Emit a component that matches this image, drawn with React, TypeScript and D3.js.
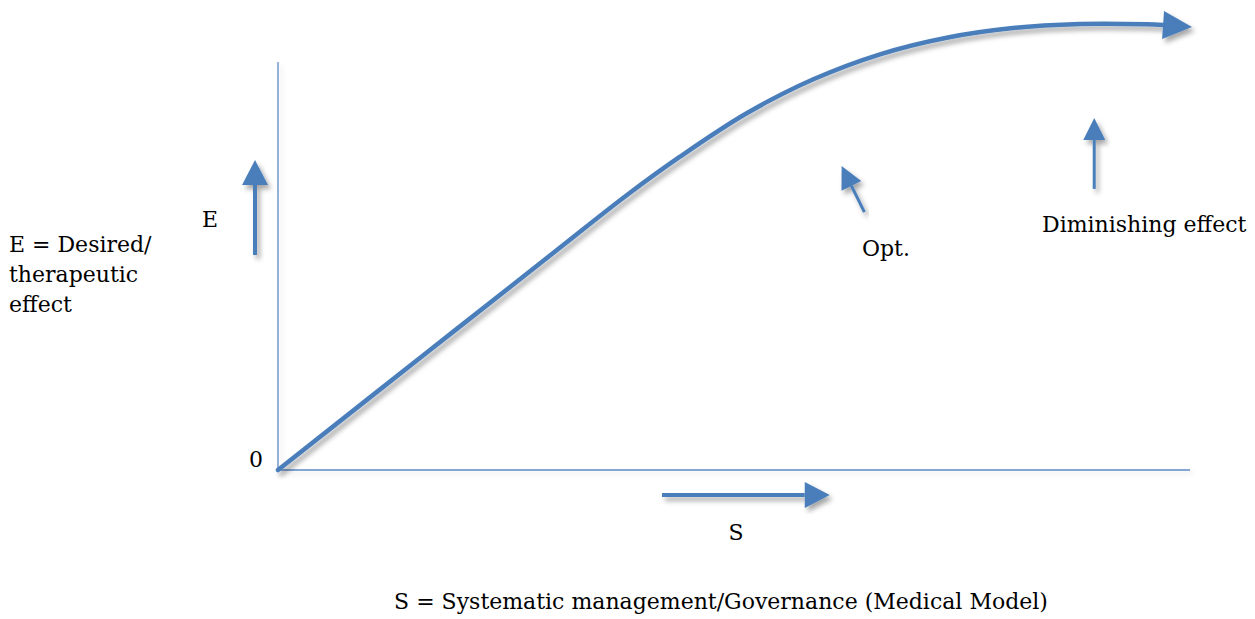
import React from "react";
import * as d3 from "d3";

// Curve data: S (systematic management) vs E (desired effect), in chart units
const curveS = [0, 1.667, 3.059, 3.827, 4.408, 5.139, 5.87, 6.601, 7.332, 8.059, 8.794, 9.525, 9.704];
const curveE = [0, 2.941, 5.392, 6.74, 7.679, 8.743, 9.576, 10.189, 10.596, 10.833, 10.931, 10.924, 10.907];
const curveTip = [10.022, 10.858];

// Annotation arrows: tails and tips as [S, E]
const arrowNames = ["E", "S", "Opt", "Dim"];
const arrowTails = [[-0.252, 5.27], [4.21, -0.613], [6.43, 6.32], [8.95, 6.89]];
const arrowTips = [[-0.252, 7.6], [6.05, -0.613], [6.18, 7.45], [8.95, 8.63]];

const axisMax = [10, 10];

const W = 1255;
const H = 619;
const BLUE = "#4a7ebb";
const FONT = "'DejaVu Serif', serif";

function arrowHead(tail: [number, number], tip: [number, number], len: number, half: number) {
  const dx = tip[0] - tail[0];
  const dy = tip[1] - tail[1];
  const d = Math.hypot(dx, dy);
  const ux = dx / d, uy = dy / d;
  const bx = tip[0] - ux * len, by = tip[1] - uy * len;
  const px = -uy, py = ux;
  return {
    base: [bx, by] as [number, number],
    points: `${tip[0]},${tip[1]} ${bx + px * half},${by + py * half} ${bx - px * half},${by - py * half}`,
  };
}

export default function App() {
  const x = d3.scaleLinear().domain([0, axisMax[0]]).range([278, 1190]);
  const y = d3.scaleLinear().domain([0, axisMax[1]]).range([470, 62]);

  const pts: [number, number][] = curveS.map((s, i) => [x(s), y(curveE[i])]);
  const line = d3.line().curve(d3.curveCatmullRom.alpha(0.5));
  const last = pts[pts.length - 1];
  const tipPx: [number, number] = [x(curveTip[0]), y(curveTip[1])];
  const curveHead = arrowHead(last, tipPx, 29, 14);

  const arrowStyle: Record<string, { w: number; len: number; half: number }> = {
    E: { w: 4, len: 25, half: 13 },
    S: { w: 4, len: 25, half: 13 },
    Opt: { w: 3, len: 22, half: 11 },
    Dim: { w: 3, len: 22, half: 11 },
  };

  return (
    <svg width={W} height={H} style={{ position: "absolute", left: 0, top: 0, background: "#fff" }}>
      <defs>
        <filter id="sh" x="-20%" y="-20%" width="140%" height="140%">
          <feDropShadow dx="3" dy="4" stdDeviation="2.5" floodColor="#000" floodOpacity="0.35" />
        </filter>
        <filter id="shl" x="-20%" y="-20%" width="140%" height="140%">
          <feDropShadow dx="3" dy="3" stdDeviation="2.5" floodColor="#000" floodOpacity="0.12" />
        </filter>
      </defs>
      {/* axes */}
      <g filter="url(#shl)">
        <line x1={x(0)} y1={y(0)} x2={x(0)} y2={y(axisMax[1])} stroke="#5b8ac6" strokeWidth={1.3} />
        <line x1={x(0)} y1={y(0)} x2={x(axisMax[0])} y2={y(0)} stroke="#5b8ac6" strokeWidth={1.3} />
      </g>
      {/* curve */}
      <g filter="url(#sh)">
        <path d={line(pts) || ""} fill="none" stroke={BLUE} strokeWidth={4.5} strokeLinecap="round" />
        <polygon points={curveHead.points} fill={BLUE} />
      </g>
      {/* annotation arrows */}
      {arrowNames.map((n, i) => {
        const st = arrowStyle[n];
        const t: [number, number] = [x(arrowTails[i][0]), y(arrowTails[i][1])];
        const p: [number, number] = [x(arrowTips[i][0]), y(arrowTips[i][1])];
        const h = arrowHead(t, p, st.len, st.half);
        return (
          <g key={n} filter="url(#sh)">
            <line x1={t[0]} y1={t[1]} x2={h.base[0]} y2={h.base[1]} stroke={BLUE} strokeWidth={st.w} />
            <polygon points={h.points} fill={BLUE} />
          </g>
        );
      })}
      {/* texts */}
      <g fontFamily={FONT} fontSize={22} fill="#000">
        <text x={202} y={227}>E</text>
        <text x={9} y={252}>E = Desired/</text>
        <text x={9} y={282}>therapeutic</text>
        <text x={9} y={312}>effect</text>
        <text x={249} y={467}>0</text>
        <text x={862} y={256}>Opt.</text>
        <text x={1042} y={232}>Diminishing effect</text>
        <text x={736} y={540} textAnchor="middle">S</text>
        <text x={721} y={609} textAnchor="middle">S = Systematic management/Governance (Medical Model)</text>
      </g>
    </svg>
  );
}
